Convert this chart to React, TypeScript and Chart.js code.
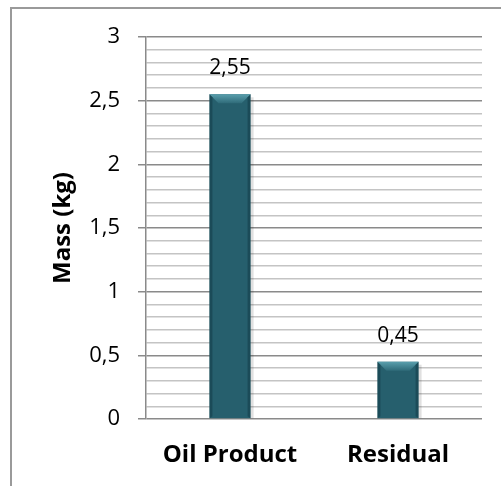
import React, { useEffect, useRef } from "react";
import { Chart, registerables } from "chart.js";

Chart.register(...registerables);

const categories = ["Oil Product", "Residual"];
const massValues = [2.55, 0.45];
const yMin = 0;
const yMax = 3;
const minorStep = 0.1;
const yTitle = "Mass (kg)";

const FONT = "'Open Sans', 'Noto Sans', sans-serif";
const fmt = (v: number) => String(Math.round(v * 100) / 100).replace(".", ",");
const isMajor = (v: number) => Math.abs(v * 2 - Math.round(v * 2)) < 1e-6;

const framePlugin = {
  id: "frame",
  beforeDraw(chart: any) {
    const ctx = chart.ctx;
    ctx.save();
    ctx.strokeStyle = "#9a9a9a";
    ctx.lineWidth = 2;
    ctx.beginPath();
    ctx.moveTo(11, chart.height);
    ctx.lineTo(11, 8);
    ctx.lineTo(chart.width, 8);
    ctx.stroke();
    ctx.restore();
  },
};

const bevelPlugin = {
  id: "bevel",
  afterDatasetsDraw(chart: any) {
    const ctx = chart.ctx;
    const meta = chart.getDatasetMeta(0);
    meta.data.forEach((bar: any) => {
      const { x, y, base, width } = bar.getProps(["x", "y", "base", "width"], true);
      const x0 = x - width / 2;
      const x1 = x + width / 2;
      const b = Math.min(9, (base - y) / 2);
      ctx.save();
      const g = ctx.createLinearGradient(0, y, 0, y + b);
      g.addColorStop(0, "#5a9fad");
      g.addColorStop(1, "#2f6b79");
      ctx.fillStyle = g;
      ctx.beginPath();
      ctx.moveTo(x0, y);
      ctx.lineTo(x1, y);
      ctx.lineTo(x1 - b, y + b);
      ctx.lineTo(x0 + b, y + b);
      ctx.closePath();
      ctx.fill();
      ctx.fillStyle = "rgba(10,40,50,0.35)";
      ctx.beginPath();
      ctx.moveTo(x0, y);
      ctx.lineTo(x0 + 3, y + 3);
      ctx.lineTo(x0 + 3, base - 2);
      ctx.lineTo(x0, base);
      ctx.closePath();
      ctx.fill();
      ctx.beginPath();
      ctx.moveTo(x1, y);
      ctx.lineTo(x1 - 3, y + 3);
      ctx.lineTo(x1 - 3, base - 2);
      ctx.lineTo(x1, base);
      ctx.closePath();
      ctx.fill();
      ctx.fillStyle = "rgba(0,0,0,0.12)";
      ctx.fillRect(x1, y + 3, 3, base - y - 3);
      ctx.restore();
    });
  },
};

const labelPlugin = {
  id: "valueLabels",
  afterDatasetsDraw(chart: any) {
    const ctx = chart.ctx;
    const meta = chart.getDatasetMeta(0);
    ctx.save();
    ctx.font = `21px ${FONT}`;
    ctx.fillStyle = "#000";
    ctx.textAlign = "center";
    ctx.textBaseline = "alphabetic";
    meta.data.forEach((bar: any, i: number) => {
      ctx.fillText(fmt(massValues[i]), bar.x, bar.y - 20);
    });
    ctx.restore();
  },
};

export default function App() {
  const ref = useRef<HTMLCanvasElement>(null);
  useEffect(() => {
    if (!ref.current) return;
    const chart = new Chart(ref.current, {
      type: "bar",
      data: {
        labels: categories,
        datasets: [
          {
            data: massValues,
            backgroundColor: "#265f6d",
            borderWidth: 0,
            barPercentage: 0.245,
            categoryPercentage: 1,
          },
        ],
      },
      plugins: [framePlugin, bevelPlugin, labelPlugin],
      options: {
        animation: false,
        responsive: false,
        maintainAspectRatio: false,
        layout: { padding: { top: 37, right: 19, left: 0, bottom: 0 } },
        plugins: { legend: { display: false }, tooltip: { enabled: false } },
        scales: {
          x: {
            grid: { display: false, drawTicks: false },
            border: { display: false },
            ticks: {
              color: "#000",
              padding: 22,
              font: { family: FONT, size: 24, weight: "bold" },
            },
            afterFit: (s: any) => {
              s.height = 67;
            },
          },
          y: {
            min: yMin,
            max: yMax,
            border: { color: "#8a8a8a", width: 1.5 },
            grid: {
              color: (c: any) => (isMajor(c.tick.value) ? "#8a8a8a" : "#c4c4c4"),
              lineWidth: 1.5,
              tickLength: 8,
              tickColor: (c: any) => (isMajor(c.tick.value) ? "#8a8a8a" : "rgba(0,0,0,0)"),
            },
            ticks: {
              stepSize: minorStep,
              autoSkip: false,
              padding: 18,
              color: "#000",
              font: { family: FONT, size: 22 },
              callback: (v: any) => (isMajor(Number(v)) ? fmt(Number(v)) : ""),
            },
            title: {
              display: true,
              text: yTitle,
              color: "#000",
              font: { family: FONT, size: 24, weight: "bold" },
              padding: { top: 48.6, bottom: 0 },
            },
            afterFit: (s: any) => {
              s.width = 146;
            },
          },
        },
      },
    });
    return () => chart.destroy();
  }, []);
  return (
    <div style={{ position: "fixed", left: 0, top: 0, width: 501, height: 486, background: "#fff" }}>
      <canvas ref={ref} width={501} height={486} style={{ display: "block" }} />
    </div>
  );
}
